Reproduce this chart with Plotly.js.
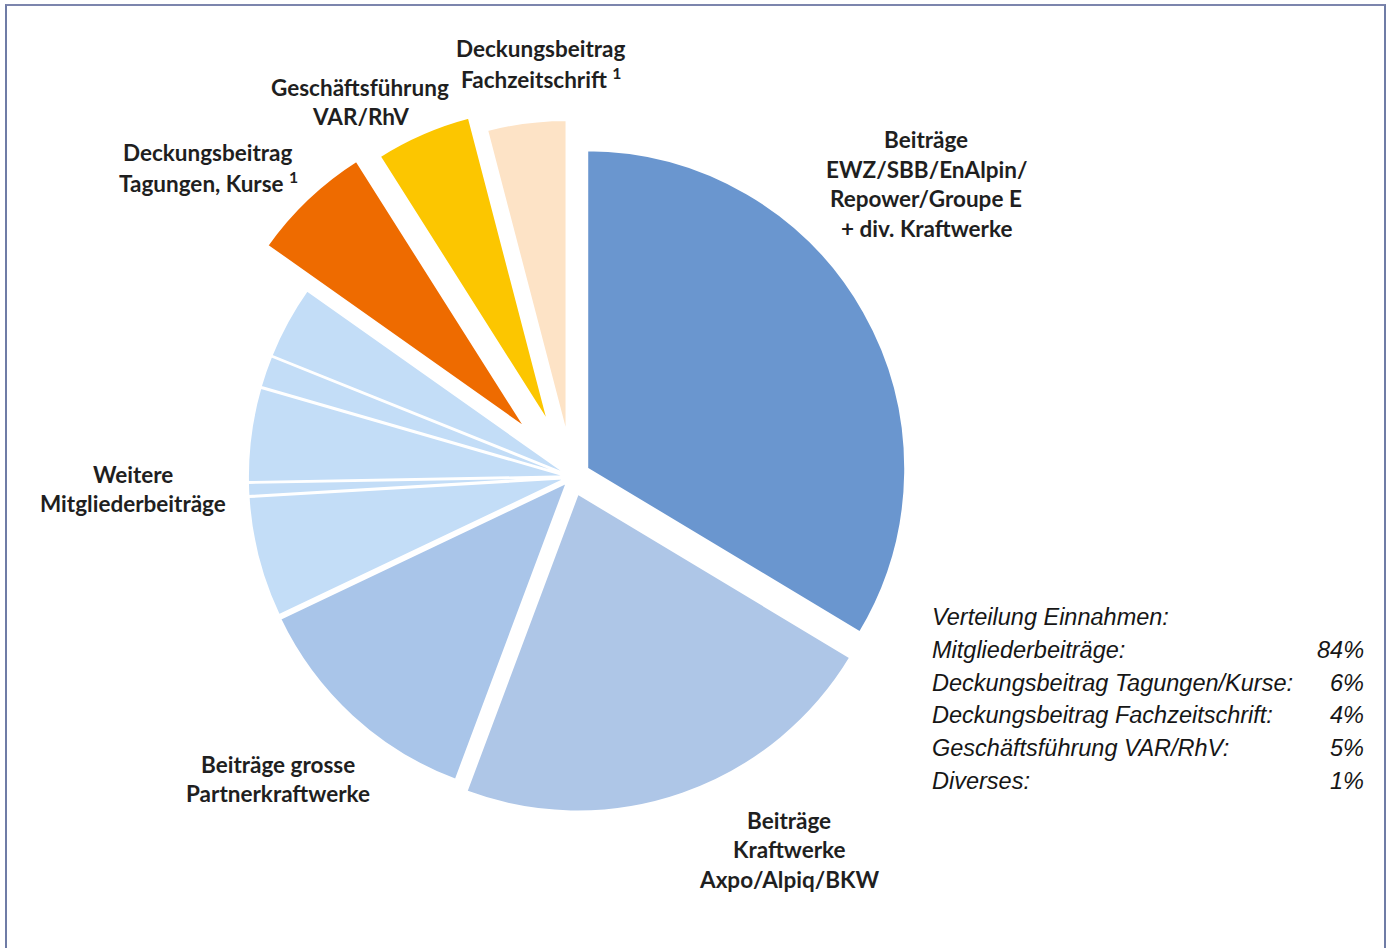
<!DOCTYPE html>
<html>
<head>
<meta charset="utf-8">
<script src="https://cdn.plot.ly/plotly-3.0.1.min.js"></script>
<style>
  html, body { margin: 0; padding: 0; background: #ffffff; }
  #wrap { position: relative; width: 1388px; height: 948px; overflow: hidden; }
  #chart { width: 1388px; height: 948px; }
  #frame { position: absolute; left: 5px; top: 4px; width: 1377px; height: 960px;
           border-top: 2px solid #7c85ad; border-left: 2px solid #6f7ca6; border-right: 2px solid #6f7ca6;
           pointer-events: none; }
</style>
</head>
<body>
<div id="wrap">
  <div id="chart"></div>
  <div id="frame"></div>
</div>
<script>
// ---- data ----
const sliceNames = [
  'Beiträge EWZ/SBB/EnAlpin/Repower/Groupe E + div. Kraftwerke',
  'Beiträge Kraftwerke Axpo/Alpiq/BKW',
  'Beiträge grosse Partnerkraftwerke',
  'Weitere Mitgliederbeiträge (1)',
  'Weitere Mitgliederbeiträge (2)',
  'Weitere Mitgliederbeiträge (3)',
  'Weitere Mitgliederbeiträge (4)',
  'Weitere Mitgliederbeiträge (5)',
  'Deckungsbeitrag Tagungen, Kurse',
  'Geschäftsführung VAR/RhV',
  'Deckungsbeitrag Fachzeitschrift'
];
const sliceValues = [33.5, 22.0, 12.2, 6.1, 0.65, 4.75, 1.6, 3.7, 6.2, 4.9, 4.05];

const summaryTitle = 'Verteilung Einnahmen:';
const summaryLabels = ['Mitgliederbeiträge:', 'Deckungsbeitrag Tagungen/Kurse:', 'Deckungsbeitrag Fachzeitschrift:', 'Geschäftsführung VAR/RhV:', 'Diverses:'];
const summaryPercents = [84, 6, 4, 5, 1];

const sliceLabelLines = [
  ['Deckungsbeitrag', 'Fachzeitschrift <sup>1</sup>'],
  ['Geschäftsführung', 'VAR/RhV'],
  ['Deckungsbeitrag', 'Tagungen, Kurse <sup>1</sup>'],
  ['Beiträge', 'EWZ/SBB/EnAlpin/', 'Repower/Groupe E', '+ div. Kraftwerke'],
  ['Weitere', 'Mitgliederbeiträge'],
  ['Beiträge grosse', 'Partnerkraftwerke'],
  ['Beiträge', 'Kraftwerke', 'Axpo/Alpiq/BKW']
];

// ---- styles / positions ----
const W = 1388, H = 948;
const sliceColors = ['#6a96cf', '#aec6e7', '#a9c5e9', '#c3ddf7', '#c3ddf7', '#c3ddf7', '#c3ddf7', '#c3ddf7', '#ee6b00', '#fcc600', '#fde3c6'];
const slicePull = [0.053, 0.053, 0.02, 0.016, 0.016, 0.016, 0.016, 0.016, 0.204, 0.175, 0.122];
const sliceLineW = [3, 3, 3, 2, 2, 2, 2, 2, 3, 3, 3];

const cx = 572, cy = 477, radius = 319;
const maxPull = Math.max(...slicePull);
const half = radius * (1 + maxPull);

const labelAnchors = [[541, 49], [360, 87], [208, 152], [926, 140], [133, 474], [278, 764], [789, 820]];
const labelLineGap = 29.5;
const summaryLeft = 930, summaryRight = 1366, summaryTop = 617, summaryGap = 32.8;

const px = x => x / W;
const py = y => 1 - y / H;

const annotations = [];
sliceLabelLines.forEach((lines, i) => {
  lines.forEach((t, j) => {
    annotations.push({
      text: t, xref: 'paper', yref: 'paper',
      x: px(labelAnchors[i][0]), y: py(labelAnchors[i][1] + j * labelLineGap),
      xanchor: 'center', yanchor: 'middle', showarrow: false,
      font: {family: 'Lato, "Open Sans", sans-serif', size: 22.5, color: '#1f1f1f', weight: 'bold'}
    });
  });
});
const sumFont = {family: '"Liberation Sans", Arial, sans-serif', size: 23.5, color: '#161616', style: 'italic'};
annotations.push({
  text: summaryTitle, xref: 'paper', yref: 'paper', x: px(summaryLeft), y: py(summaryTop),
  xanchor: 'left', yanchor: 'middle', showarrow: false, font: sumFont
});
summaryLabels.forEach((t, i) => {
  const yy = summaryTop + (i + 1) * summaryGap;
  annotations.push({
    text: t, xref: 'paper', yref: 'paper', x: px(summaryLeft), y: py(yy),
    xanchor: 'left', yanchor: 'middle', showarrow: false, font: sumFont
  });
  annotations.push({
    text: summaryPercents[i] + '%', xref: 'paper', yref: 'paper', x: px(summaryRight), y: py(yy),
    xanchor: 'right', yanchor: 'middle', showarrow: false, font: sumFont
  });
});

const trace = {
  type: 'pie',
  labels: sliceNames,
  values: sliceValues,
  sort: false,
  direction: 'clockwise',
  rotation: 0,
  pull: slicePull,
  textinfo: 'none',
  hoverinfo: 'label+percent',
  marker: {colors: sliceColors, line: {color: '#ffffff', width: sliceLineW}},
  domain: {x: [px(cx - half), px(cx + half)], y: [py(cy + half), py(cy - half)]}
};

const layout = {
  width: W, height: H,
  margin: {l: 0, r: 0, t: 0, b: 0, pad: 0},
  paper_bgcolor: '#ffffff', plot_bgcolor: '#ffffff',
  showlegend: false,
  annotations: annotations
};

Plotly.newPlot('chart', [trace], layout, {displayModeBar: false, staticPlot: true});
</script>
</body>
</html>
